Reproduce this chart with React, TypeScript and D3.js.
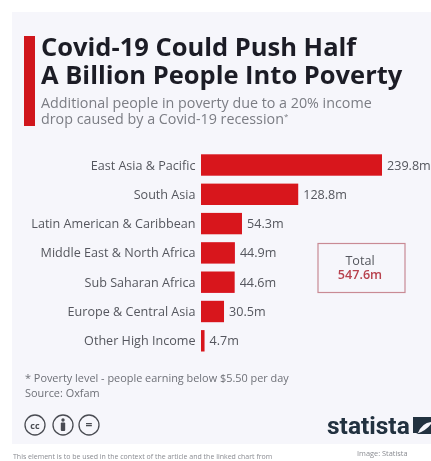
import React from "react";
import * as d3 from "d3";

const regions = ["East Asia & Pacific", "South Asia", "Latin American & Caribbean", "Middle East & North Africa", "Sub Saharan Africa", "Europe & Central Asia", "Other High Income"];
const values = [239.8, 128.8, 54.3, 44.9, 44.6, 30.5, 4.7];
const valueLabels = ["239.8m", "128.8m", "54.3m", "44.9m", "44.6m", "30.5m", "4.7m"];
const titleLines = ["Covid-19 Could Push Half", "A Billion People Into Poverty"];
const subtitleLines = ["Additional people in poverty due to a 20% income", "drop caused by a Covid-19 recession"];
const noteLines = ["* Poverty level - people earning below $5.50 per day", "Source: Oxfam"];
const totalLabel = "Total";
const totalValue = "547.6m";
const bottomText = "This element is to be used in the context of the article and the linked chart from";
const creditText = "Image: Statista";

const FONT = "'Open Sans', 'Noto Sans', sans-serif";

export default function App() {
  const x = d3.scaleLinear().domain([0, 239.8]).range([201, 382]);
  const y = d3.scaleBand().domain(regions).range([150.5, 355.3]).paddingInner(0.27).paddingOuter(0.13);
  const bh = y.bandwidth();
  return (
    <svg width={431} height={461} viewBox="0 0 431 461" style={{ position: "absolute", left: 0, top: 0, display: "block" }} fontFamily={FONT}>
      <defs>
        <filter id="soft" x="-5%" y="-5%" width="110%" height="110%">
          <feGaussianBlur stdDeviation="0.6" />
        </filter>
      </defs>
      <rect width={431} height={461} fill="#ffffff" />
      <rect x={12} y={12} width={419} height={432} fill="#f6f6fb" />
      <g filter="url(#soft)">
        <rect x={24} y={36} width={11} height={90} fill="#d0121f" />
        {titleLines.map((t, i) => (
          <text key={t} x={41} y={55.5 + i * 28.5} fontSize={25.5} fontWeight={700} fill="#1c1f26">{t}</text>
        ))}
        {subtitleLines.map((t, i) => (
          <text key={t} x={41} y={107.5 + i * 16.5} fontSize={14.3} fill="#7b7d84">
            {t}
            {i === 1 ? <tspan fontSize={8} dy={-5}>*</tspan> : null}
          </text>
        ))}
        {regions.map((r, i) => {
          const by = y(r) as number;
          return (
            <g key={r}>
              <text x={195.5} y={by + bh / 2 + 4.5} textAnchor="end" fontSize={12.6} fill="#55575e">{r}</text>
              <rect x={x(0)} y={by} width={x(values[i]) - x(0)} height={bh} fill="#d8141d" />
              <text x={x(values[i]) + 5} y={by + bh / 2 + 4.5} fontSize={12.6} fill="#55575e">{valueLabels[i]}</text>
            </g>
          );
        })}
        <rect x={318} y={243.5} width={87} height={49} fill="none" stroke="#c98a94" strokeWidth={1.2} />
        <text x={360} y={265} textAnchor="middle" fontSize={12.6} fill="#55575e">{totalLabel}</text>
        <text x={360} y={279} textAnchor="middle" fontSize={12.6} fontWeight={600} fill="#b8434f">{totalValue}</text>
        {noteLines.map((t, i) => (
          <text key={t} x={25} y={382 + i * 15} fontSize={10.9} fill="#6e7077">{t}</text>
        ))}
        {[35, 63, 89].map((cx, i) => (
          <g key={cx}>
            <circle cx={cx} cy={425} r={10} fill="none" stroke="#4a4c52" strokeWidth={1.3} />
            {i === 1 ? (
              <g fill="#4a4c52">
                <circle cx={cx} cy={420} r={1.7} />
                <rect x={cx - 2.2} y={422.5} width={4.4} height={8.5} rx={1} />
              </g>
            ) : (
              <text x={cx} y={428.5} textAnchor="middle" fontSize={i === 0 ? 9 : 12} fontWeight={700} fill="#4a4c52">{["cc", "", "="][i]}</text>
            )}
          </g>
        ))}
        <text x={327} y={433.5} fontFamily="'Roboto', 'Open Sans', sans-serif" fontSize={24.5} fontWeight={700} fill="#22303f">statista</text>
        <path d="M413 417H431V422Q422 423 418 433H413Z" fill="#22303f" />
        <path d="M431 424V434H416Q426 431 431 424Z" fill="#22303f" />
        <text x={13} y={458.5} fontSize={7} fill="#8a8c92">{bottomText}</text>
        <text x={357} y={455.5} fontSize={7.4} fill="#8a8c92">{creditText}</text>
      </g>
    </svg>
  );
}
